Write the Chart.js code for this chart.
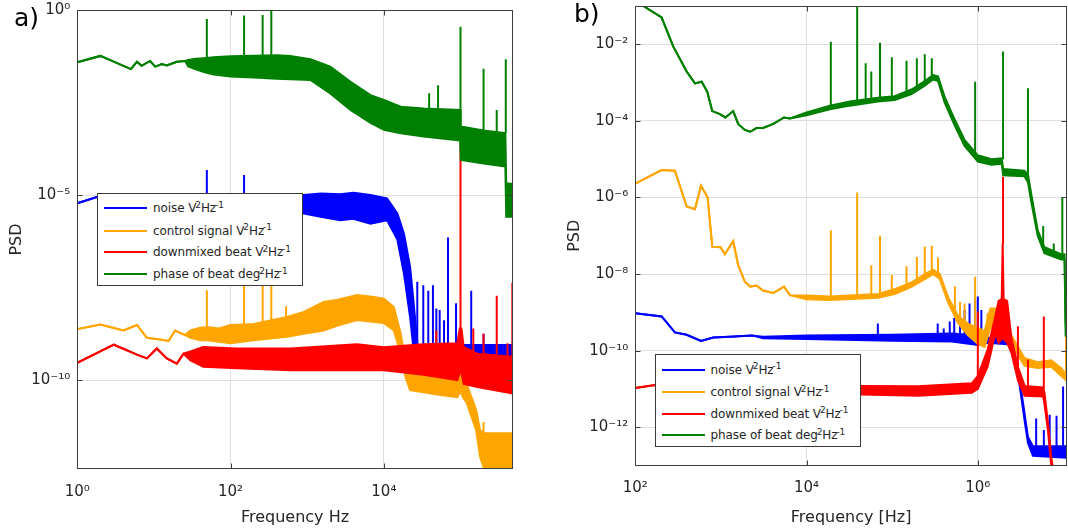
<!DOCTYPE html>
<html>
<head>
<meta charset="utf-8">
<script src="https://cdn.jsdelivr.net/npm/chart.js@4.4.1/dist/chart.umd.min.js"></script>
<style>
html,body{margin:0;padding:0;background:#fff;overflow:hidden}
body{width:1068px;height:531px;position:relative;font-family:'DejaVu Sans',sans-serif}
.panel{position:absolute;top:0;height:531px}
.panel canvas{display:block}
.plabel{position:absolute;font-size:25px;line-height:25px;color:#000}
.legend{position:absolute;background:#fff;border:1px solid #3a3a3a;box-sizing:border-box}
.row{position:absolute;left:0;right:0;height:20px}
.row .ln{position:absolute;left:6px;width:43px;top:9px;border-top:2px solid}
.row .tx{position:absolute;left:55px;top:0;line-height:20px;font-size:12px;color:#262626;white-space:nowrap;letter-spacing:-0.1px}
.tx sup{font-size:75%;vertical-align:baseline;position:relative;top:-0.5em;margin-left:-1px}
</style>
</head>
<body>
<div class="panel" id="pa" style="left:0;width:530px"><canvas id="ca"></canvas></div>
<div class="panel" id="pb" style="left:535px;width:533px"><canvas id="cb"></canvas></div>
<div class="plabel" style="left:14px;top:5px">a)</div>
<div class="plabel" style="left:574px;top:1px">b)</div>

<div class="legend" style="left:97px;top:193px;width:206px;height:93px">
  <div class="row" style="top:4px"><div class="ln" style="border-color:#0000ff"></div><div class="tx">noise V<sup>2</sup>Hz<sup>-1</sup></div></div>
  <div class="row" style="top:26.5px"><div class="ln" style="border-color:#ffa500"></div><div class="tx">control signal V<sup>2</sup>Hz<sup>-1</sup></div></div>
  <div class="row" style="top:48px"><div class="ln" style="border-color:#ff0000"></div><div class="tx">downmixed beat V<sup>2</sup>Hz<sup>-1</sup></div></div>
  <div class="row" style="top:70px"><div class="ln" style="border-color:#008000"></div><div class="tx">phase of beat deg<sup>2</sup>Hz<sup>-1</sup></div></div>
</div>
<div class="legend" style="left:654.5px;top:353.5px;width:206px;height:93px">
  <div class="row" style="top:5px"><div class="ln" style="border-color:#0000ff"></div><div class="tx">noise V<sup>2</sup>Hz<sup>-1</sup></div></div>
  <div class="row" style="top:27.5px"><div class="ln" style="border-color:#ffa500"></div><div class="tx">control signal V<sup>2</sup>Hz<sup>-1</sup></div></div>
  <div class="row" style="top:49px"><div class="ln" style="border-color:#ff0000"></div><div class="tx">downmixed beat V<sup>2</sup>Hz<sup>-1</sup></div></div>
  <div class="row" style="top:70.5px"><div class="ln" style="border-color:#008000"></div><div class="tx">phase of beat deg<sup>2</sup>Hz<sup>-1</sup></div></div>
</div>

<script>
// ---------------- DATA ----------------
// band rows: [frequency Hz, lower edge of trace, upper edge of trace]
// spike rows: [frequency Hz, base, top]

// Panel a
const aFreqRange = [1, 4.8e5];
const aPsdRange = [4e-13, 1];
const aXTicks = [1, 1e2, 1e4];
const aYTicks = [1e-10, 1e-5, 1];

const aNoise = [
 [1,6.0e-6,6.0e-6],[1.8,8.9e-6,8.9e-6],[3,9.5e-6,9.5e-6],[10,8e-6,9.8e-6],[30,5e-6,1.0e-5],
 [100,3.8e-6,1.0e-5],[900,3.2e-6,1.0e-5],[1500,2.6e-6,1.1e-5],[2700,2.1e-6,1.05e-5],[4000,2.3e-6,1.15e-5],
 [6700,1.7e-6,1.0e-5],[11000,2.1e-6,8.1e-6],[15000,6.3e-7,3.2e-6],[18300,7.6e-8,9.1e-7],[22000,5.1e-9,1.15e-7],
 [24700,5.4e-10,1e-8],[27500,4.3e-10,8.9e-10],[1e5,4.3e-10,8.9e-10],[4.8e5,4e-10,8.9e-10]
];
const aNoiseSpikes = [
 [49,1.0e-5,4.8e-5],[150,1.0e-5,3.5e-5],[27300,8.9e-10,4.6e-8],[32700,8.9e-10,3.7e-8],[38000,8.9e-10,2.6e-8],
 [43700,8.9e-10,3.7e-8],[48400,8.9e-10,8.7e-9],[53500,8.9e-10,7.9e-9],[61000,8.9e-10,4.2e-9],[68700,8.9e-10,7.2e-7],
 [87500,8.9e-10,1.2e-8],[138000,8.9e-10,2.6e-8],[200000,8.9e-10,1.8e-9]
];
const aControl = [
 [1,2.4e-9,2.4e-9],[2,3.2e-9,3.2e-9],[4,2.2e-9,2.2e-9],[6,3.1e-9,3.1e-9],[8.1,1.4e-9,1.4e-9],
 [12,1.26e-9,1.26e-9],[15.5,1.15e-9,1.15e-9],[18.9,2.2e-9,2.2e-9],[25.5,1.66e-9,1.66e-9],
 [30,1.4e-9,2.2e-9],[40,1.2e-9,2.6e-9],[50,1.2e-9,2.75e-9],[70,1.1e-9,2.5e-9],[100,1e-9,3.1e-9],[200,1.2e-9,3.3e-9],
 [546,1.5e-9,5.1e-9],[900,1.8e-9,7e-9],[1640,2.2e-9,1.3e-8],[2500,3e-9,1.5e-8],[4470,4.2e-9,2e-8],[7000,3.8e-9,1.8e-8],
 [1e4,3.5e-9,1.6e-8],[13500,2.2e-9,9.5e-9],[16500,5.4e-10,1.9e-9],[19200,1.2e-10,3.5e-10],
 [22000,5.4e-11,1.55e-10],[55000,4e-11,1.2e-10],[91000,3.5e-11,1.2e-10],[1e5,5e-11,3.5e-10],[110000,3.2e-11,1.1e-10],
 [120000,2.5e-11,7.9e-11],[160000,4.5e-12,1.6e-11],[180000,8.5e-13,4.5e-12],[200000,4.5e-13,3.7e-12],[4.8e5,4.5e-13,3.7e-12]
];
const aControlSpikes = [
 [49,2.7e-9,2.7e-8],[150,3e-9,2e-7],[262,3e-9,2e-7],[340,3e-9,2e-7],[530,4e-9,1e-8],[200000,3.7e-12,7.4e-12]
];
const aBeat = [
 [1,2.95e-10,2.95e-10],[3,9.1e-10,9.1e-10],[6,4.9e-10,4.9e-10],[8.1,3.9e-10,3.9e-10],[10.9,7.2e-10,7.2e-10],
 [14.7,3.9e-10,3.9e-10],[19.9,2.8e-10,2.8e-10],[24.3,5.2e-10,5.2e-10],[30,3.4e-10,6e-10],[44,2.3e-10,7.9e-10],
 [121,2.1e-10,7.2e-10],[600,1.86e-10,7.2e-10],[4470,1.86e-10,9.3e-10],[1e4,1.86e-10,7.8e-10],[33000,1.4e-10,9.3e-10],
 [91000,1e-10,1e-9],[98000,1.6e-10,2.5e-9],[103000,1.6e-10,2.5e-9],[110000,7.9e-11,7.9e-10],[166000,6.6e-11,5.2e-10],
 [4.8e5,4.4e-11,4.3e-10]
];
const aBeatSpikes = [
 [48400,9e-10,2.2e-9],[1e5,2.5e-9,2.5e-4],[147000,5e-10,2.5e-9],[200000,5e-10,1.8e-9],[297000,5e-10,1.9e-8],
 [410000,4.5e-10,1e-9],[475000,4.5e-10,4.3e-8]
];
const aPhase = [
 [1,0.039,0.039],[2,0.0575,0.0575],[5,0.0254,0.0254],[6,0.040,0.040],[6.9,0.031,0.031],[8.9,0.042,0.042],
 [10.4,0.0295,0.0295],[12.7,0.0347,0.0347],[14.7,0.0316,0.0316],[19.9,0.040,0.040],[25.5,0.042,0.042],
 [28,0.03,0.045],[35,0.025,0.048],[45,0.021,0.05],[60,0.018,0.053],[100,0.016,0.056],[200,0.015,0.058],
 [400,0.014,0.060],[600,0.0135,0.0575],[1100,0.0129,0.047],[2000,0.0056,0.0295],[3670,0.002,0.0115],[6700,8.9e-4,0.005],
 [1e4,5.8e-4,0.0037],[16600,4.7e-4,0.00245],[33000,3.8e-4,0.0022],[99000,3.0e-4,0.002],[101000,8.9e-5,7.1e-4],
 [200000,7.1e-5,5.6e-4],[385000,5.9e-5,4.7e-4],[395000,2.6e-6,2.1e-5],[4.8e5,2.6e-6,2.0e-5]
];
const aPhaseSpikes = [
 [49,0.05,0.575],[150,0.05,0.71],[262,0.055,0.73],[340,0.055,1.05],[39000,0.0022,0.0056],[51000,0.0022,0.0093],
 [100000,0.002,0.355],[200000,5.6e-4,0.026],[297000,5e-4,0.002],[390000,4.7e-4,0.047]
];

// Panel b
const bFreqRange = [100, 1.1e7];
const bPsdRange = [1e-13, 0.1];
const bXTicks = [1e2, 1e4, 1e6];
const bYTicks = [1e-12, 1e-10, 1e-8, 1e-6, 1e-4, 1e-2];

const bNoise = [
 [100,9.5e-10,9.5e-10],[203,7.8e-10,7.8e-10],[290,3.0e-10,3.0e-10],[398,2.6e-10,2.6e-10],[585,1.8e-10,1.8e-10],
 [813,2.2e-10,2.2e-10],[1270,2.3e-10,2.3e-10],[2300,2.5e-10,2.5e-10],[3100,2.1e-10,2.3e-10],[1e4,2e-10,2.5e-10],
 [1e5,1.8e-10,2.6e-10],[5e5,1.74e-10,2.8e-10],[1e6,1.4e-10,2.5e-10],[1.3e6,1.6e-10,2.2e-10],[2.4e6,1.45e-10,2.1e-10],
 [2.9e6,3.2e-11,4.5e-11],[3.5e6,1.6e-12,2.4e-12],[3.85e6,3.9e-13,5.6e-13],[4.4e6,1.8e-13,3.2e-13],[1.1e7,1.6e-13,3.2e-13]
];
const bNoiseSpikes = [
 [6.8e4,2.5e-10,5.1e-10],[3.4e5,2.6e-10,5.1e-10],[4.0e5,2.6e-10,3.8e-10],[4.7e5,2.7e-10,5.8e-10],[5.3e5,2.7e-10,7.1e-10],
 [6.2e5,2.7e-10,8.5e-10],[7.0e5,2.7e-10,1.15e-9],[8.0e5,2.6e-10,1.7e-9],[9.3e5,2.5e-10,2.2e-9],[1.0e6,2.5e-10,2.6e-9],
 [1.1e6,2.4e-10,1.15e-9],[4.8e6,3e-13,1.7e-12],[5.9e6,3e-13,8.5e-13],[6.9e6,3e-13,2.1e-12],[8.3e6,3e-13,2e-12],
 [9.9e6,3e-13,1.15e-11]
];
const bControl = [
 [100,2.3e-6,2.3e-6],[203,5.2e-6,5.2e-6],[290,5e-6,5e-6],[398,5.8e-7,5.8e-7],[497,4.9e-7,4.9e-7],[585,2.0e-6,2.0e-6],
 [700,1e-6,1e-6],[792,5.2e-8,5.2e-8],[990,5e-8,5e-8],[1110,3.3e-8,3.3e-8],[1390,7.2e-8,7.2e-8],[1590,1.7e-8,1.7e-8],
 [1900,6.3e-9,6.3e-9],[2200,4.7e-9,4.7e-9],[2600,5e-9,5e-9],[3100,3.7e-9,3.7e-9],[4100,3.2e-9,3.2e-9],[5450,4.7e-9,4.7e-9],
 [6400,2.8e-9,2.8e-9],[1e4,2.2e-9,2.75e-9],[1.87e4,2.1e-9,2.6e-9],[6.8e4,2.4e-9,3e-9],[1.07e5,3e-9,4e-9],[1.68e5,4.6e-9,6e-9],
 [2.4e5,7.4e-9,1e-8],[3.0e5,1e-8,1.3e-8],[3.6e5,7.4e-9,1e-8],[4.5e5,1.8e-9,2.5e-9],[5.9e5,5.2e-10,7.9e-10],[7.7e5,2.5e-10,5e-10],
 [1.0e6,1.5e-10,4e-10],[1.2e6,1.26e-10,3.2e-10],[1.4e6,4e-10,1.26e-9],[1.8e6,4e-10,1.26e-9],[2.2e6,2.5e-10,5e-10],
 [2.47e6,1.6e-10,2.5e-10],[2.94e6,7.6e-11,1.26e-10],[3.52e6,4e-11,6.3e-11],[5e6,3.5e-11,5e-11],[7.2e6,3.8e-11,5.6e-11],
 [9.4e6,2.2e-11,3.5e-11],[1.1e7,1.6e-11,2.2e-11]
];
const bControlSpikes = [
 [1.92e4,2.6e-9,1.4e-7],[3.9e4,2.7e-9,1.35e-6],[5.7e4,2.8e-9,1.7e-8],[7.2e4,2.9e-9,1e-7],[9.9e4,3.8e-9,9.5e-9],
 [1.47e5,5e-9,1.6e-8],[1.94e5,6.5e-9,2.8e-8],[2.4e5,1e-8,5.2e-8],[2.9e5,1.2e-8,5.5e-8],[3.43e5,1.1e-8,2.7e-8],
 [5.4e5,1.2e-9,4.7e-9],[6.2e5,6e-10,1.9e-9],[7.0e5,5e-10,1.7e-9],[9.3e5,4e-10,8.5e-9],[1.3e6,4e-10,9.5e-10],
 [1.07e7,2e-11,3.2e-10]
];
const bBeat = [
 [100,1.05e-11,1.05e-11],[170,1.26e-11,1.26e-11],[400,1e-11,1.2e-11],[2000,8e-12,1.2e-11],[4.4e4,7.1e-12,1.2e-11],
 [2e5,6.6e-12,1.17e-11],[8.5e5,7.9e-12,1.4e-11],[1.0e6,1e-11,2.2e-11],[1.3e6,3.8e-11,1.05e-10],[1.6e6,2.8e-10,7.8e-10],
 [1.75e6,1.6e-10,2e-9],[1.9e6,2e-10,2.2e-9],[1.95e6,2e-10,6.3e-8],[2.0e6,2e-10,2.2e-9],[2.2e6,1.6e-10,2e-9],
 [2.47e6,8.7e-11,2.1e-10],[2.94e6,1.7e-11,3.8e-11],
 [3.52e6,6.6e-12,1.2e-11],[5.8e6,6.3e-12,1.1e-11],[6.0e6,4e-12,8e-12],[6.6e6,8e-13,1.3e-12],[7.2e6,1e-13,1.6e-13],
 [7.6e6,5e-14,8e-14]
];
const bBeatSpikes = [
 [1.0e6,2e-11,1.05e-9],[1.97e6,6e-8,3.5e-6],[2.94e6,3.8e-11,4.3e-10],[3.85e6,1.1e-11,5.8e-11],[5.9e6,1e-11,7.8e-10]
];
const bPhase = [
 [100,0.112,0.112],[124,0.1,0.1],[203,0.05,0.05],[278,8.7e-3,8.7e-3],[398,1.95e-3,1.95e-3],[497,9.5e-4,9.5e-4],
 [596,1.05e-3,1.05e-3],[692,5.8e-4,5.8e-4],[792,1.8e-4,1.8e-4],[975,1.5e-4,1.5e-4],[1130,1.23e-4,1.23e-4],
 [1390,1.8e-4,1.8e-4],[1590,8.3e-5,8.3e-5],[1900,5.8e-5,5.8e-5],[2200,5.2e-5,5.2e-5],[2600,6.5e-5,6.5e-5],
 [3100,6.5e-5,6.5e-5],[4100,8.3e-5,8.3e-5],[5450,1.23e-4,1.23e-4],[6400,1.15e-4,1.15e-4],[1e4,1.4e-4,1.65e-4],
 [1.87e4,2e-4,2.5e-4],[3.2e4,2.5e-4,3.2e-4],[6.8e4,3.2e-4,4e-4],[1.07e5,3.5e-4,4.4e-4],[1.68e5,5e-4,6.6e-4],
 [2.4e5,8.3e-4,1.1e-3],[3.0e5,1.2e-3,1.58e-3],[3.43e5,1.1e-3,1.45e-3],[4.1e5,3e-4,4.2e-4],[5.4e5,7.4e-5,1.05e-4],
 [7.0e5,2.2e-5,3.2e-5],[1.0e6,8.7e-6,1.26e-5],[1.44e6,7.2e-6,1e-5],[1.9e6,7.6e-6,1.05e-5],[1.98e6,3.8e-6,5.5e-6],
 [3.5e6,3.6e-6,5e-6],[3.85e6,2.5e-6,4e-6],[4.2e6,7.9e-7,1.26e-6],[5.0e6,1e-7,1.4e-7],[6.0e6,3.5e-8,5e-8],
 [9.4e6,2.4e-8,3.3e-8],[1.03e7,2.4e-8,3.3e-8],[1.06e7,2.5e-10,5e-10],[1.1e7,2.5e-10,5e-10]
];
const bPhaseSpikes = [
 [1.92e4,2.3e-4,0.0117],[3.9e4,3e-4,0.12],[4.9e4,3e-4,3.2e-3],[5.7e4,3.1e-4,1.95e-3],[7.2e4,3.5e-4,0.011],
 [9.9e4,4e-4,4.6e-3],[1.47e5,5.5e-4,3.7e-3],[1.94e5,7e-4,4.3e-3],[2.4e5,1e-3,5.5e-3],[2.9e5,1.5e-3,4.3e-3],
 [9.3e5,1.3e-5,1.05e-3],[1.97e6,1e-5,6.5e-3],[3.85e6,4e-6,7.1e-4],[5.8e6,5.5e-8,1.8e-7],[7.7e6,3.3e-8,6.3e-8],
 [9.7e6,3.3e-8,1e-6]
];

// ---------------- STYLE ----------------
const C_NOISE = '#0000ff', C_CTRL = '#ffa500', C_BEAT = '#ff0000', C_PHASE = '#008000';
const LW = 2;
const TEXT = '#262626';

const SUP = {'-':'\u207B','0':'\u2070','1':'\u00B9','2':'\u00B2','3':'\u00B3','4':'\u2074','5':'\u2075','6':'\u2076','7':'\u2077','8':'\u2078','9':'\u2079'};
function decadeLabel(v) {
  const e = Math.round(Math.log10(v));
  return '10' + String(e).split('').map(c => SUP[c]).join('');
}

const framePlugin = {
  id: 'frame',
  afterDraw(chart) {
    const {ctx, chartArea: a, scales: {x, y}} = chart;
    ctx.save();
    ctx.strokeStyle = '#3f3f3f';
    ctx.lineWidth = 1;
    const L = Math.round(a.left) + 0.5, R = Math.round(a.right) - 0.5, T = Math.round(a.top) + 0.5, B = Math.round(a.bottom) - 0.5;
    ctx.strokeRect(L, T, R - L, B - T);
    const tl = 5;
    ctx.beginPath();
    x.ticks.forEach(t => {
      const px = Math.round(x.getPixelForValue(t.value)) + 0.5;
      ctx.moveTo(px, B); ctx.lineTo(px, B - tl);
      ctx.moveTo(px, T); ctx.lineTo(px, T + tl);
    });
    y.ticks.forEach(t => {
      const py = Math.round(y.getPixelForValue(t.value)) + 0.5;
      ctx.moveTo(L, py); ctx.lineTo(L + tl, py);
      ctx.moveTo(R, py); ctx.lineTo(R - tl, py);
    });
    ctx.stroke();
    ctx.restore();
  }
};

function buildDatasets(series) {
  const ds = [];
  series.forEach((s, k) => {
    const loIdx = ds.length;
    ds.push({data: s.band.map(r => ({x: r[0], y: r[1]})), borderColor: s.color, borderWidth: LW,
             pointRadius: 0, fill: false, order: k, tension: 0});
    ds.push({data: s.band.map(r => ({x: r[0], y: r[2]})), borderColor: s.color, backgroundColor: s.color,
             borderWidth: LW, pointRadius: 0, fill: loIdx, order: k, tension: 0});
    ds.push({data: s.spikes.flatMap(r => [{x: r[0], y: r[1]}, {x: r[0], y: r[2]}, {x: r[0], y: null}]),
             borderColor: s.color, borderWidth: LW, pointRadius: 0, fill: false, order: k, spanGaps: false, tension: 0});
  });
  return ds;
}

function makeChart(id, cfg) {
  return new Chart(document.getElementById(id), {
    type: 'line',
    data: {datasets: buildDatasets(cfg.series)},
    plugins: [framePlugin],
    options: {
      animation: false, responsive: true, maintainAspectRatio: false,
      events: [],
      layout: {padding: {left: 0, right: cfg.padRight, top: cfg.padTop, bottom: 0}},
      plugins: {legend: {display: false}, tooltip: {enabled: false}},
      scales: {
        x: {
          type: 'logarithmic', min: cfg.xRange[0], max: cfg.xRange[1],
          afterBuildTicks: s => { s.ticks = cfg.xTicks.map(v => ({value: v})); },
          afterFit: s => { s.height = cfg.xAxisH; s.paddingLeft = 0; s.paddingRight = 0; },
          ticks: {callback: v => decadeLabel(v), color: TEXT, font: {family: 'DejaVu Sans', size: 15},
                  padding: 14, maxRotation: 0, autoSkip: false},
          grid: {color: '#dfdfdf', lineWidth: 1, drawTicks: false},
          border: {display: false},
          title: {display: true, text: cfg.xTitle, color: TEXT, font: {family: 'DejaVu Sans', size: 16},
                  padding: {top: 0, bottom: 4}}
        },
        y: {
          type: 'logarithmic', min: cfg.yRange[0], max: cfg.yRange[1],
          afterBuildTicks: s => { s.ticks = cfg.yTicks.map(v => ({value: v})); },
          afterFit: s => { s.width = cfg.yAxisW; s.paddingTop = 0; s.paddingBottom = 0; },
          ticks: {callback: v => decadeLabel(v), color: TEXT, font: {family: 'DejaVu Sans', size: 15},
                  padding: 7, autoSkip: false},
          grid: {color: '#dfdfdf', lineWidth: 1, drawTicks: false},
          border: {display: false},
          title: {display: true, text: 'PSD', color: TEXT, font: {family: 'DejaVu Sans', size: 16},
                  padding: {top: cfg.yTitlePad, bottom: 0}}
        }
      }
    }
  });
}

makeChart('ca', {
  series: [
    {band: aPhase, spikes: aPhaseSpikes, color: C_PHASE},
    {band: aBeat, spikes: aBeatSpikes, color: C_BEAT},
    {band: aControl, spikes: aControlSpikes, color: C_CTRL},
    {band: aNoise, spikes: aNoiseSpikes, color: C_NOISE}
  ],
  xRange: aFreqRange, yRange: aPsdRange, xTicks: aXTicks, yTicks: aYTicks,
  xTitle: 'Frequency Hz', padRight: 17.3, padTop: 10, xAxisH: 62, yAxisW: 77.3, yTitlePad: 7.4
});

makeChart('cb', {
  series: [
    {band: bPhase, spikes: bPhaseSpikes, color: C_PHASE},
    {band: bBeat, spikes: bBeatSpikes, color: C_BEAT},
    {band: bControl, spikes: bControlSpikes, color: C_CTRL},
    {band: bNoise, spikes: bNoiseSpikes, color: C_NOISE}
  ],
  xRange: bFreqRange, yRange: bPsdRange, xTicks: bXTicks, yTicks: bYTicks,
  xTitle: 'Frequency [Hz]', padRight: 1, padTop: 6, xAxisH: 65.5, yAxisW: 100.3, yTitlePad: 30
});
</script>
</body>
</html>
